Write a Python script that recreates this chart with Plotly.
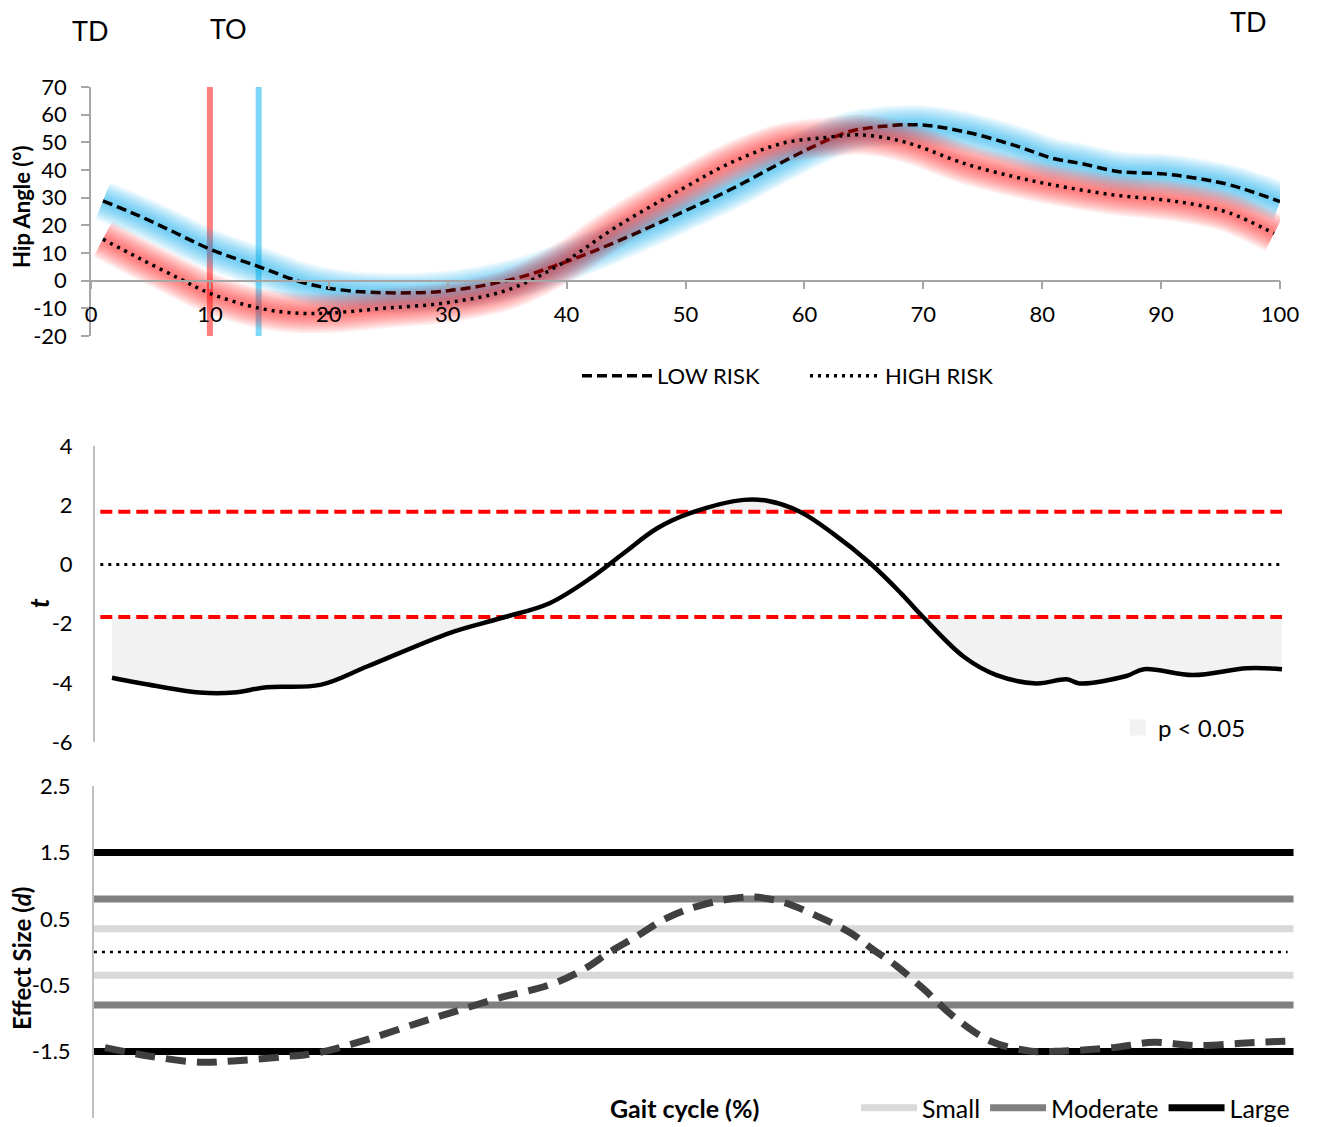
import numpy as np
import plotly.graph_objects as go

W, H = 1317, 1127
FONT = "Lato"

# ---------------- data ----------------
GAIT_TICKS = [0, 10, 20, 30, 40, 50, 60, 70, 80, 90, 100]
HIP_TICKS = [-20, -10, 0, 10, 20, 30, 40, 50, 60, 70]
T_TICKS = [-6, -4, -2, 0, 2, 4]
D_TICKS = [-2.5, -1.5, -0.5, 0.5, 1.5, 2.5]

LOW_X = [1, 4, 7, 10, 14.1, 17.6, 20.1, 24, 29.9, 35.8, 40, 44.2, 49.8, 54, 58.2,
         61, 63.8, 66.4, 69.7, 73.4, 77.6, 80.9, 83.2, 86.5, 90.2, 93, 95.8, 100]
LOW_Y = [28.8, 23.5, 17.5, 11.4, 5.1, -0.4, -2.8, -4.3, -3.7, 0.9, 6.9, 14.1, 24.9, 33.4, 43,
         49, 53.9, 55.7, 56.3, 53.9, 49, 44.2, 42.4, 39.4, 38.6, 37, 34.6, 28.6]

HIGH_X = [1, 4.1, 7.5, 10, 14.2, 17.6, 20.4, 24.6, 29.9, 35, 39.4, 44.2, 49.8, 54, 58.2,
          61.9, 64.7, 67.8, 69.7, 73.4, 77.6, 80.9, 86, 90.2, 93, 95.8, 99.5]
HIGH_Y = [15, 8, 0.6, -4.6, -10, -11.8, -11.6, -10, -8, -3.4, 5.7, 19.5, 33.4, 43, 49.7,
          51.8, 52.7, 50.8, 48.4, 42.4, 37.6, 34.6, 31, 29.2, 27.4, 24.4, 17.1]

TO_HIGH = 10.0
TO_LOW = 14.1

T_X = [0, 3.8, 7.5, 10.4, 13.2, 17.8, 21.8, 28.9, 33.2, 37.4, 41.1, 43.7, 46.6, 49.4, 54,
       56, 58.8, 61.6, 64.8, 67.4, 69.3, 72.8, 75.6, 79, 81.6, 82.7, 86.7, 88.2, 92.4, 97, 100]
T_Y = [-3.83, -4.11, -4.33, -4.33, -4.15, -4.07, -3.45, -2.31, -1.82, -1.31, -0.41, 0.37, 1.22,
       1.73, 2.18, 2.15, 1.78, 1.05, 0.04, -0.96, -1.77, -3.12, -3.74, -4.02, -3.88, -4.02,
       -3.77, -3.54, -3.74, -3.51, -3.54]
T_CRIT = 1.78
T_LINE_X = [-1, 100]

D_X = [0, 3.8, 8, 10.8, 15, 17.9, 22.1, 26.4, 29.1, 33.3, 37.6, 40.4, 42.6, 44.9, 47.4, 50.2,
       54.4, 57.2, 60.1, 62.9, 64.8, 66.8, 69.1, 71.6, 74.7, 78, 80.9, 85.1, 88.5, 92.1, 96.3, 100]
D_Y = [-1.44, -1.57, -1.66, -1.64, -1.58, -1.52, -1.32, -1.07, -0.92, -0.69, -0.49, -0.26, 0.0,
       0.24, 0.51, 0.70, 0.83, 0.75, 0.54, 0.29, 0.04, -0.21, -0.56, -0.97, -1.34, -1.49, -1.49,
       -1.44, -1.36, -1.41, -1.37, -1.34]
ES_SMALL = 0.35
ES_MODERATE = 0.8
ES_LARGE = 1.5
ES_LINE_X = [-0.93, 100.3]
ES_ZERO_X = [-0.93, 99.8]

# ---------------- layout helpers ----------------
def fx(p):
    return p / W


def fy(p):
    return 1 - p / H


def labels(vals, fmt="{:g}"):
    return [fmt.format(v) for v in vals]


top_xdom = [fx(91), fx(1280)]
top_ydom = [fy(336), fy(87)]
hip_min, hip_max = min(HIP_TICKS), max(HIP_TICKS)
zero_pos = top_ydom[0] + (0 - hip_min) / (hip_max - hip_min) * (top_ydom[1] - top_ydom[0])

mid_xdom = [fx(95), fx(1295)]
mid_ydom = [fy(742), fy(446)]
bot_xdom = [fx(94), fx(1294)]
bot_ydom = [fy(1118), fy(786)]

fig = go.Figure()

# ---------------- top panel ----------------
def glow(xs, ys, rgb):
    for w in range(40, 6, -3):
        fig.add_trace(go.Scatter(
            x=xs, y=ys, mode="lines", line=dict(color=f"rgba({rgb},0.058)", width=w, shape="spline"),
            hoverinfo="skip", showlegend=False, xaxis="x", yaxis="y"))

fig.add_trace(go.Scatter(x=[TO_HIGH, TO_HIGH], y=[hip_min, hip_max], mode="lines",
                         line=dict(color="rgba(255,0,0,0.5)", width=6), showlegend=False,
                         xaxis="x", yaxis="y"))
fig.add_trace(go.Scatter(x=[TO_LOW, TO_LOW], y=[hip_min, hip_max], mode="lines",
                         line=dict(color="rgba(0,176,240,0.5)", width=6), showlegend=False,
                         xaxis="x", yaxis="y"))

glow(LOW_X, LOW_Y, "0,176,240")
fig.add_trace(go.Scatter(x=LOW_X, y=LOW_Y, mode="lines", name="LOW RISK",
                         line=dict(color="black", width=3.5, dash="10px,5px", shape="spline"),
                         xaxis="x", yaxis="y", legend="legend"))
glow(HIGH_X, HIGH_Y, "255,20,20")
fig.add_trace(go.Scatter(x=HIGH_X, y=HIGH_Y, mode="lines", name="HIGH RISK",
                         line=dict(color="black", width=3.5, dash="3px,5px", shape="spline"),
                         xaxis="x", yaxis="y", legend="legend4"))

# ---------------- middle panel ----------------
t_y = np.array(T_Y)
fig.add_trace(go.Scatter(x=T_X, y=np.full(len(T_X), -T_CRIT), mode="lines",
                         line=dict(width=0), showlegend=False, hoverinfo="skip",
                         xaxis="x2", yaxis="y2"))
fig.add_trace(go.Scatter(x=T_X, y=np.minimum(t_y, -T_CRIT), mode="lines", fill="tonexty",
                         fillcolor="#f2f2f2", line=dict(width=0, shape="spline"),
                         showlegend=False, hoverinfo="skip", xaxis="x2", yaxis="y2"))
fig.add_trace(go.Scatter(x=T_X, y=np.full(len(T_X), T_CRIT), mode="lines",
                         line=dict(width=0), showlegend=False, hoverinfo="skip",
                         xaxis="x2", yaxis="y2"))
fig.add_trace(go.Scatter(x=T_X, y=np.maximum(t_y, T_CRIT), mode="lines", fill="tonexty",
                         fillcolor="#f2f2f2", line=dict(width=0, shape="spline"),
                         showlegend=False, hoverinfo="skip", xaxis="x2", yaxis="y2"))
# legend key for the significance shading
fig.add_trace(go.Scatter(x=[None], y=[None], mode="markers", name="p < 0.05",
                         marker=dict(symbol="square", size=16, color="#f2f2f2", line=dict(width=0)),
                         legend="legend2", xaxis="x2", yaxis="y2"))
fig.add_trace(go.Scatter(x=T_LINE_X + [None] + T_LINE_X, y=[T_CRIT, T_CRIT, None, -T_CRIT, -T_CRIT],
                         mode="lines", line=dict(color="#ff0000", width=4, dash="12px,6px"),
                         showlegend=False, xaxis="x2", yaxis="y2"))
fig.add_trace(go.Scatter(x=T_LINE_X, y=[0, 0], mode="lines",
                         line=dict(color="black", width=3, dash="3px,5px"),
                         showlegend=False, xaxis="x2", yaxis="y2"))
fig.add_trace(go.Scatter(x=T_X, y=T_Y, mode="lines", line=dict(color="black", width=4.5, shape="spline"),
                         showlegend=False, xaxis="x2", yaxis="y2"))

# ---------------- bottom panel ----------------
for val, col, name in [(ES_SMALL, "#d9d9d9", "Small"), (ES_MODERATE, "#808080", "Moderate"),
                       (ES_LARGE, "#000000", "Large")]:
    fig.add_trace(go.Scatter(x=ES_LINE_X + [None] + ES_LINE_X, y=[val, val, None, -val, -val],
                             mode="lines", line=dict(color=col, width=7), name=name,
                             legend="legend3", xaxis="x3", yaxis="y3"))
fig.add_trace(go.Scatter(x=ES_ZERO_X, y=[0, 0], mode="lines",
                         line=dict(color="black", width=2.5, dash="3px,5px"),
                         showlegend=False, xaxis="x3", yaxis="y3"))
fig.add_trace(go.Scatter(x=D_X, y=D_Y, mode="lines",
                         line=dict(color="#404040", width=7, dash="20px,11px", shape="spline"),
                         showlegend=False, xaxis="x3", yaxis="y3"))

# ---------------- layout ----------------
tickfont = dict(family=FONT, size=22, color="#000000")
fig.update_layout(
    width=W, height=H, autosize=False,
    margin=dict(l=0, r=0, t=0, b=0, pad=0, autoexpand=False),
    paper_bgcolor="white", plot_bgcolor="rgba(0,0,0,0)",
    font=dict(family=FONT, size=22, color="#000000"),
    xaxis=dict(domain=top_xdom, range=[0, 100], anchor="free", position=zero_pos,
               showline=True, linecolor="#a6a6a6", linewidth=1.5, ticks="outside", ticklen=8,
               tickcolor="#a6a6a6", tickwidth=1.5, tickvals=GAIT_TICKS, ticktext=labels(GAIT_TICKS),
               tickfont=tickfont, ticklabelstandoff=6, showgrid=False, zeroline=False),
    yaxis=dict(domain=top_ydom, range=[hip_min, hip_max], anchor="x",
               showline=True, linecolor="#a6a6a6", linewidth=1.5, ticks="outside", ticklen=8,
               tickcolor="#a6a6a6", tickwidth=1.5, tickvals=HIP_TICKS, ticktext=labels(HIP_TICKS),
               tickfont=tickfont, ticklabelstandoff=10, showgrid=False, zeroline=False),
    xaxis2=dict(domain=mid_xdom, range=[-1.453, 101.11], anchor="y2", visible=False),
    yaxis2=dict(domain=mid_ydom, range=[-6, 4], anchor="x2", showline=True, linecolor="#bfbfbf",
                linewidth=2, ticks="", tickvals=T_TICKS, ticktext=labels(T_TICKS), tickfont=tickfont,
                ticklabelstandoff=16, showgrid=False, zeroline=False),
    xaxis3=dict(domain=bot_xdom, range=[-0.928, 100.34], anchor="y3", visible=False),
    yaxis3=dict(domain=bot_ydom, range=[-2.5, 2.5], anchor="x3", showline=True, linecolor="#bfbfbf",
                linewidth=2, ticks="", tickvals=D_TICKS, ticktext=labels(D_TICKS, "{:.1f}"),
                tickfont=tickfont, ticklabelstandoff=17, showgrid=False, zeroline=False),
    legend=dict(orientation="h", x=fx(577), y=fy(376), xanchor="left", yanchor="middle",
                traceorder="normal", font=dict(family=FONT, size=22), itemwidth=70,
                bgcolor="rgba(0,0,0,0)"),
    legend4=dict(orientation="h", x=fx(805), y=fy(376), xanchor="left", yanchor="middle",
                 traceorder="normal", font=dict(family=FONT, size=22), itemwidth=70,
                 bgcolor="rgba(0,0,0,0)"),
    legend2=dict(orientation="h", x=fx(1118), y=fy(728), xanchor="left", yanchor="middle",
                 traceorder="normal", font=dict(family=FONT, size=24), bgcolor="rgba(0,0,0,0)"),
    legend3=dict(orientation="h", x=fx(856), y=fy(1108), xanchor="left", yanchor="middle",
                 traceorder="normal", font=dict(family=FONT, size=25), itemwidth=56,
                 bgcolor="rgba(0,0,0,0)"),
    showlegend=True,
)

ann = [
    dict(text="TD", x=fx(90), y=fy(30)),
    dict(text="TO", x=fx(228), y=fy(28)),
    dict(text="TD", x=fx(1248), y=fy(22)),
]
for a in ann:
    fig.add_annotation(xref="paper", yref="paper", x=a["x"], y=a["y"], text=a["text"],
                       showarrow=False, xanchor="center", yanchor="middle",
                       font=dict(family=FONT, size=27, color="#000000"))

titles = [
    dict(text="<b>Hip Angle (°)</b>", x=fx(22), y=fy(207), size=22),
    dict(text="<b><i>t</i></b>", x=fx(39), y=fy(603), size=26),
    dict(text="<b>Effect Size (<i>d</i>)</b>", x=fx(21), y=fy(959), size=24),
]
for t in titles:
    fig.add_annotation(xref="paper", yref="paper", x=t["x"], y=t["y"], text=t["text"],
                       showarrow=False, textangle=-90, xanchor="center", yanchor="middle",
                       font=dict(family=FONT, size=t["size"], color="#000000"))

fig.add_annotation(xref="paper", yref="paper", x=fx(684), y=fy(1108), text="<b>Gait cycle (%)</b>",
                   showarrow=False, xanchor="center", yanchor="middle",
                   font=dict(family=FONT, size=25, color="#000000"))

fig.write_html("out.html")
